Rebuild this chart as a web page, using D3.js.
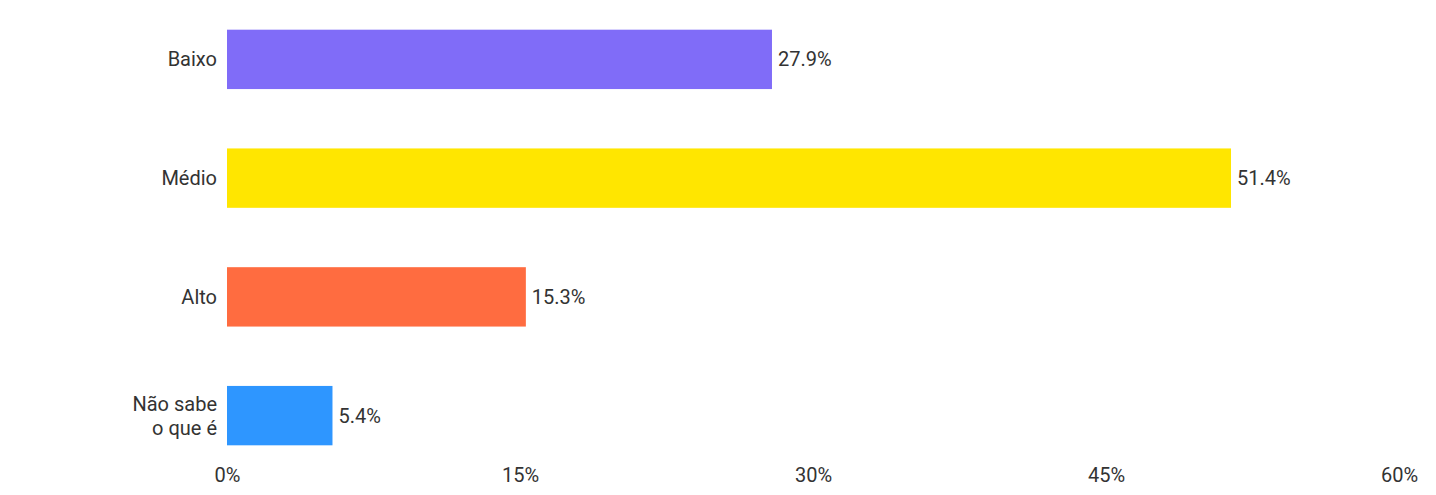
<!DOCTYPE html>
<html>
<head>
<meta charset="utf-8">
<script src="https://cdn.jsdelivr.net/npm/d3@7"></script>
<style>
  body { margin: 0; background: #fff; }
  text { font-family: Roboto, sans-serif; }
</style>
</head>
<body>
<svg id="chart" width="1436" height="495"></svg>
<script>
const categories = [["Baixo"], ["Médio"], ["Alto"], ["Não sabe", "o que é"]];
const values = [27.9, 51.4, 15.3, 5.4];
const colors = ["#806cf8", "#ffe600", "#ff6c40", "#2e96ff"];
const ticks = [0, 15, 30, 45, 60];

const svg = d3.select("#chart");
const keys = categories.map(c => c.join(" "));

let x = d3.scaleLinear().domain([0, 60]).range([227, 1399]);
let y = d3.scaleBand().domain(keys).range([0, 475]).paddingInner(0.5).paddingOuter(0.25);

// bars
svg.append("g").selectAll("rect")
  .data(values)
  .join("rect")
  .attr("x", x(0))
  .attr("y", (d, i) => y(keys[i]))
  .attr("width", d => x(d) - x(0))
  .attr("height", y.bandwidth())
  .attr("fill", (d, i) => colors[i]);

// value labels
svg.append("g").selectAll("text")
  .data(values)
  .join("text")
  .attr("x", d => x(d) + 6)
  .attr("y", (d, i) => y(keys[i]) + y.bandwidth() / 2)
  .attr("dy", "0.35em")
  .attr("font-size", 20)
  .attr("fill", "#333")
  .text(d => d.toFixed(1) + "%");

// category labels
const cat = svg.append("g").selectAll("text")
  .data(categories)
  .join("text")
  .attr("x", x(0) - 10)
  .attr("y", (d, i) => y(keys[i]) + y.bandwidth() / 2)
  .attr("text-anchor", "end")
  .attr("font-size", 20)
  .attr("fill", "#333");
cat.selectAll("tspan")
  .data(d => d.map((t, j) => ({ t, j, n: d.length })))
  .join("tspan")
  .attr("x", x(0) - 10)
  .attr("dy", d => d.j === 0 ? (0.35 - (d.n - 1) * 0.6) + "em" : "1.2em")
  .text(d => d.t);

// x axis
const xAxis = svg.append("g")
  .attr("transform", "translate(0,462)")
  .call(d3.axisBottom(x).tickValues(ticks).tickFormat(d => d + "%").tickSize(0));
xAxis.select(".domain").remove();
xAxis.selectAll("text")
  .attr("font-size", 20)
  .attr("fill", "#333")
  .style("font-family", "Roboto, sans-serif")
  .attr("dy", "0.71em")
  .attr("y", 6);
</script>
</body>
</html>
